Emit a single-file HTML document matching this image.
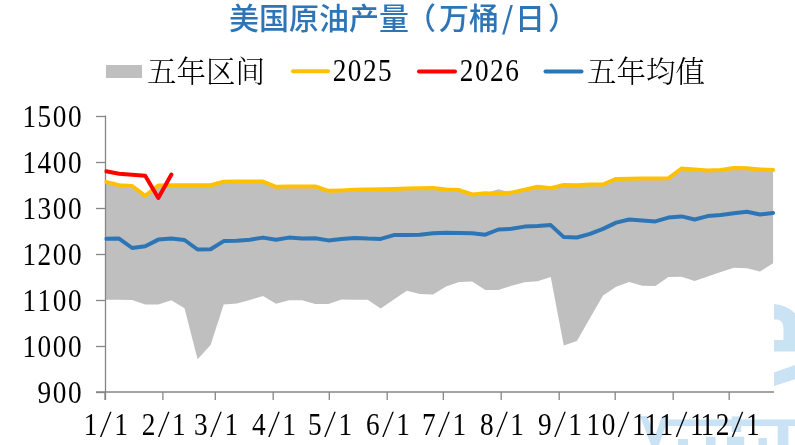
<!DOCTYPE html>
<html><head><meta charset="utf-8"><title>美国原油产量</title>
<style>html,body{margin:0;padding:0;background:#fff;}body{width:795px;height:445px;overflow:hidden;}svg{display:block;}</style>
</head><body>
<svg width="795" height="445" viewBox="0 0 795 445">
<g fill="#c9e2f4">
<path fill-rule="evenodd" d="M774,304 Q787,305 795,313.5 L795,351.4 L774,351.4 Z M774,319.6 L778,319.6 Q783.5,321.5 783.5,328.5 L783.5,339.9 L774,339.9 Z"/>
<polygon points="774,372.5 795,365 795,379.3 774,386"/>
<rect x="668" y="419.5" width="127" height="6.5"/>
<polygon points="640,416 647,416 659,445 651,445"/>
<polygon points="662,416 669,416 659,445 652,445"/>
<rect x="777.7" y="426" width="10.7" height="19"/>
<rect x="731.7" y="416.4" width="9.5" height="15.6"/>
<rect x="706" y="436.7" width="9.5" height="8.3"/><rect x="727" y="436.7" width="17.2" height="8.3"/><rect x="758.5" y="438" width="8.5" height="7"/><rect x="678" y="439" width="10" height="6"/>
</g>
<rect x="105" y="100" width="669" height="292" fill="#fff"/>
<polygon points="106.0,181.9 119.1,185.3 132.2,186.0 145.2,195.8 158.3,185.5 171.4,185.2 184.5,185.2 197.6,185.2 210.6,185.2 223.7,181.7 236.8,181.6 249.9,181.6 263.0,181.6 276.0,186.8 289.1,186.6 302.2,186.5 315.3,186.5 328.4,190.8 341.4,190.4 354.5,189.8 367.6,189.5 380.7,189.2 393.8,188.9 406.8,188.6 419.9,188.3 433.0,188.0 446.1,189.5 459.2,190.1 472.2,194.5 485.3,193.2 498.4,189.2 511.5,192.6 524.6,189.8 537.6,186.8 550.7,188.3 563.8,184.9 576.9,185.2 590.0,184.5 603.0,184.5 616.1,178.9 629.2,178.7 642.3,178.6 655.4,178.5 668.4,178.3 681.5,168.6 694.6,169.5 707.7,170.4 720.8,169.9 733.8,168.0 746.9,168.2 760.0,169.5 773.1,169.9 773.1,263.3 760.0,271.4 746.9,268.3 733.8,267.7 720.8,272.1 707.7,276.6 694.6,281.0 681.5,276.7 668.4,277.0 655.4,286.1 642.3,285.8 629.2,282.1 616.1,286.8 603.0,295.5 590.0,318.0 576.9,341.0 563.8,345.5 550.7,277.0 537.6,281.3 524.6,282.2 511.5,285.8 498.4,289.9 485.3,289.9 472.2,281.6 459.2,282.0 446.1,286.4 433.0,294.6 419.9,293.9 406.8,290.8 393.8,299.6 380.7,308.4 367.6,299.8 354.5,299.8 341.4,299.6 328.4,304.0 315.3,304.0 302.2,300.2 289.1,300.2 276.0,303.7 263.0,296.0 249.9,299.9 236.8,303.5 223.7,304.4 210.6,344.9 197.6,359.2 184.5,308.3 171.4,300.3 158.3,304.5 145.2,304.5 132.2,300.1 119.1,299.8 106.0,299.8" fill="#bfbfbf"/>
<g stroke="#868686" stroke-width="1.3" fill="none">
<line x1="105.5" y1="115.5" x2="105.5" y2="400"/>
<line x1="96" y1="392" x2="774" y2="392"/>
<line x1="96" y1="116.5" x2="105" y2="116.5"/>
<line x1="96" y1="162.5" x2="105" y2="162.5"/>
<line x1="96" y1="208.5" x2="105" y2="208.5"/>
<line x1="96" y1="254.5" x2="105" y2="254.5"/>
<line x1="96" y1="300.5" x2="105" y2="300.5"/>
<line x1="96" y1="346.5" x2="105" y2="346.5"/>
<line x1="96" y1="392.5" x2="105" y2="392.5"/>
<line x1="105.0" y1="392" x2="105.0" y2="400"/>
<line x1="162.9" y1="392" x2="162.9" y2="400"/>
<line x1="215.3" y1="392" x2="215.3" y2="400"/>
<line x1="273.2" y1="392" x2="273.2" y2="400"/>
<line x1="329.3" y1="392" x2="329.3" y2="400"/>
<line x1="387.2" y1="392" x2="387.2" y2="400"/>
<line x1="443.3" y1="392" x2="443.3" y2="400"/>
<line x1="501.2" y1="392" x2="501.2" y2="400"/>
<line x1="559.2" y1="392" x2="559.2" y2="400"/>
<line x1="615.2" y1="392" x2="615.2" y2="400"/>
<line x1="673.2" y1="392" x2="673.2" y2="400"/>
<line x1="729.2" y1="392" x2="729.2" y2="400"/>
</g>
<clipPath id="pc"><rect x="104.5" y="90" width="700" height="310"/></clipPath>
<g clip-path="url(#pc)">
<polyline points="106.0,181.9 119.1,185.3 132.2,186.0 145.2,195.8 158.3,185.5 171.4,185.2 184.5,185.2 197.6,185.2 210.6,185.2 223.7,181.7 236.8,181.6 249.9,181.6 263.0,181.6 276.0,186.8 289.1,186.6 302.2,186.5 315.3,186.5 328.4,190.8 341.4,190.4 354.5,189.8 367.6,189.5 380.7,189.2 393.8,188.9 406.8,188.6 419.9,188.3 433.0,188.0 446.1,189.5 459.2,190.1 472.2,194.5 485.3,193.2 498.4,193.9 511.5,192.6 524.6,189.8 537.6,186.8 550.7,188.3 563.8,184.9 576.9,185.2 590.0,184.5 603.0,184.5 616.1,178.9 629.2,178.7 642.3,178.6 655.4,178.5 668.4,178.3 681.5,168.6 694.6,169.5 707.7,170.4 720.8,169.9 733.8,168.0 746.9,168.2 760.0,169.5 773.1,169.9" fill="none" stroke="#ffc000" stroke-width="4" stroke-linejoin="round" stroke-linecap="round"/>
<polyline points="106.0,238.8 119.1,238.6 132.2,248.0 145.2,246.3 158.3,239.6 171.4,238.4 184.5,240.0 197.6,249.5 210.6,249.2 223.7,241.1 236.8,240.7 249.9,239.7 263.0,237.6 276.0,239.8 289.1,237.6 302.2,238.6 315.3,238.2 328.4,240.4 341.4,238.9 354.5,237.9 367.6,238.6 380.7,238.9 393.8,235.1 406.8,235.1 419.9,234.8 433.0,233.2 446.1,232.8 459.2,233.0 472.2,233.2 485.3,234.7 498.4,229.5 511.5,228.8 524.6,226.6 537.6,226.1 550.7,225.1 563.8,237.1 576.9,237.5 590.0,233.9 603.0,228.9 616.1,222.6 629.2,219.5 642.3,220.5 655.4,221.4 668.4,217.6 681.5,216.4 694.6,219.5 707.7,216.1 720.8,214.9 733.8,213.2 746.9,211.7 760.0,214.5 773.1,212.9" fill="none" stroke="#2e75b6" stroke-width="4" stroke-linejoin="round" stroke-linecap="round"/>
<polyline points="106.0,171.2 119.1,173.8 132.2,174.8 145.2,175.8 158.3,198.0 171.4,174.6" fill="none" stroke="#ff0000" stroke-width="4" stroke-linejoin="round" stroke-linecap="round"/>
</g>
<g transform="scale(0.88,1)" font-family="'Liberation Serif', serif"  font-size="31" fill="#000" text-anchor="middle">
<text x="33.27 50.48 67.70 84.91" y="127.0" >1500</text>
<text x="33.27 50.48 67.70 84.91" y="173.0" >1400</text>
<text x="33.27 50.48 67.70 84.91" y="219.0" >1300</text>
<text x="33.27 50.48 67.70 84.91" y="265.0" >1200</text>
<text x="33.27 50.48 67.70 84.91" y="311.0" >1100</text>
<text x="33.27 50.48 67.70 84.91" y="357.0" >1000</text>
<text x="50.48 67.70 84.91" y="403.0" >900</text>
<text x="385.80 403.01 420.23 437.44" y="81.3" font-size="31">2025</text>
<text x="530.23 547.44 564.66 581.88" y="81.3" font-size="31">2026</text>
</g>
<text font-family="'Liberation Serif', serif" font-size="31" fill="#000" text-anchor="middle"><tspan x="90.65" y="434.9" textLength="13.64" lengthAdjust="spacingAndGlyphs">1</tspan><tspan x="105.80" y="432" font-family="'Noto Serif CJK SC', serif" font-weight="300" font-size="27" textLength="12" lengthAdjust="spacingAndGlyphs">/</tspan><tspan x="120.95" y="434.9" textLength="13.64" lengthAdjust="spacingAndGlyphs">1</tspan></text>
<text font-family="'Liberation Serif', serif" font-size="31" fill="#000" text-anchor="middle"><tspan x="148.59" y="434.9" textLength="13.64" lengthAdjust="spacingAndGlyphs">2</tspan><tspan x="163.74" y="432" font-family="'Noto Serif CJK SC', serif" font-weight="300" font-size="27" textLength="12" lengthAdjust="spacingAndGlyphs">/</tspan><tspan x="178.89" y="434.9" textLength="13.64" lengthAdjust="spacingAndGlyphs">1</tspan></text>
<text font-family="'Liberation Serif', serif" font-size="31" fill="#000" text-anchor="middle"><tspan x="200.92" y="434.9" textLength="13.64" lengthAdjust="spacingAndGlyphs">3</tspan><tspan x="216.07" y="432" font-family="'Noto Serif CJK SC', serif" font-weight="300" font-size="27" textLength="12" lengthAdjust="spacingAndGlyphs">/</tspan><tspan x="231.22" y="434.9" textLength="13.64" lengthAdjust="spacingAndGlyphs">1</tspan></text>
<text font-family="'Liberation Serif', serif" font-size="31" fill="#000" text-anchor="middle"><tspan x="258.86" y="434.9" textLength="13.64" lengthAdjust="spacingAndGlyphs">4</tspan><tspan x="274.01" y="432" font-family="'Noto Serif CJK SC', serif" font-weight="300" font-size="27" textLength="12" lengthAdjust="spacingAndGlyphs">/</tspan><tspan x="289.16" y="434.9" textLength="13.64" lengthAdjust="spacingAndGlyphs">1</tspan></text>
<text font-family="'Liberation Serif', serif" font-size="31" fill="#000" text-anchor="middle"><tspan x="314.93" y="434.9" textLength="13.64" lengthAdjust="spacingAndGlyphs">5</tspan><tspan x="330.08" y="432" font-family="'Noto Serif CJK SC', serif" font-weight="300" font-size="27" textLength="12" lengthAdjust="spacingAndGlyphs">/</tspan><tspan x="345.23" y="434.9" textLength="13.64" lengthAdjust="spacingAndGlyphs">1</tspan></text>
<text font-family="'Liberation Serif', serif" font-size="31" fill="#000" text-anchor="middle"><tspan x="372.87" y="434.9" textLength="13.64" lengthAdjust="spacingAndGlyphs">6</tspan><tspan x="388.02" y="432" font-family="'Noto Serif CJK SC', serif" font-weight="300" font-size="27" textLength="12" lengthAdjust="spacingAndGlyphs">/</tspan><tspan x="403.17" y="434.9" textLength="13.64" lengthAdjust="spacingAndGlyphs">1</tspan></text>
<text font-family="'Liberation Serif', serif" font-size="31" fill="#000" text-anchor="middle"><tspan x="428.94" y="434.9" textLength="13.64" lengthAdjust="spacingAndGlyphs">7</tspan><tspan x="444.09" y="432" font-family="'Noto Serif CJK SC', serif" font-weight="300" font-size="27" textLength="12" lengthAdjust="spacingAndGlyphs">/</tspan><tspan x="459.24" y="434.9" textLength="13.64" lengthAdjust="spacingAndGlyphs">1</tspan></text>
<text font-family="'Liberation Serif', serif" font-size="31" fill="#000" text-anchor="middle"><tspan x="486.88" y="434.9" textLength="13.64" lengthAdjust="spacingAndGlyphs">8</tspan><tspan x="502.03" y="432" font-family="'Noto Serif CJK SC', serif" font-weight="300" font-size="27" textLength="12" lengthAdjust="spacingAndGlyphs">/</tspan><tspan x="517.18" y="434.9" textLength="13.64" lengthAdjust="spacingAndGlyphs">1</tspan></text>
<text font-family="'Liberation Serif', serif" font-size="31" fill="#000" text-anchor="middle"><tspan x="544.82" y="434.9" textLength="13.64" lengthAdjust="spacingAndGlyphs">9</tspan><tspan x="559.97" y="432" font-family="'Noto Serif CJK SC', serif" font-weight="300" font-size="27" textLength="12" lengthAdjust="spacingAndGlyphs">/</tspan><tspan x="575.12" y="434.9" textLength="13.64" lengthAdjust="spacingAndGlyphs">1</tspan></text>
<text font-family="'Liberation Serif', serif" font-size="31" fill="#000" text-anchor="middle"><tspan x="593.31" y="434.9" textLength="13.64" lengthAdjust="spacingAndGlyphs">1</tspan><tspan x="608.46" y="434.9" textLength="13.64" lengthAdjust="spacingAndGlyphs">0</tspan><tspan x="623.61" y="432" font-family="'Noto Serif CJK SC', serif" font-weight="300" font-size="27" textLength="12" lengthAdjust="spacingAndGlyphs">/</tspan><tspan x="638.76" y="434.9" textLength="13.64" lengthAdjust="spacingAndGlyphs">1</tspan></text>
<text font-family="'Liberation Serif', serif" font-size="31" fill="#000" text-anchor="middle"><tspan x="651.25" y="434.9" textLength="13.64" lengthAdjust="spacingAndGlyphs">1</tspan><tspan x="666.40" y="434.9" textLength="13.64" lengthAdjust="spacingAndGlyphs">1</tspan><tspan x="681.55" y="432" font-family="'Noto Serif CJK SC', serif" font-weight="300" font-size="27" textLength="12" lengthAdjust="spacingAndGlyphs">/</tspan><tspan x="696.70" y="434.9" textLength="13.64" lengthAdjust="spacingAndGlyphs">1</tspan></text>
<text font-family="'Liberation Serif', serif" font-size="31" fill="#000" text-anchor="middle"><tspan x="707.32" y="434.9" textLength="13.64" lengthAdjust="spacingAndGlyphs">1</tspan><tspan x="722.47" y="434.9" textLength="13.64" lengthAdjust="spacingAndGlyphs">2</tspan><tspan x="737.62" y="432" font-family="'Noto Serif CJK SC', serif" font-weight="300" font-size="27" textLength="12" lengthAdjust="spacingAndGlyphs">/</tspan><tspan x="752.77" y="434.9" textLength="13.64" lengthAdjust="spacingAndGlyphs">1</tspan></text>
<rect x="106" y="65" width="36" height="13" fill="#bfbfbf"/>
<line x1="293" y1="71.2" x2="328" y2="71.2" stroke="#ffc000" stroke-width="4" stroke-linecap="round"/>
<line x1="419" y1="71.4" x2="455" y2="71.4" stroke="#ff0000" stroke-width="4" stroke-linecap="round"/>
<line x1="545.5" y1="71.5" x2="581.5" y2="71.5" stroke="#2e75b6" stroke-width="4" stroke-linecap="round"/>
<g font-family="'Noto Serif CJK SC', serif" font-weight="300" font-size="29.5" fill="#000">
<text x="147" y="82">五年区间</text>
<text x="587" y="82">五年均值</text>
</g>
<text x="229 259 289 319 349 379 406 439 469 501.8 515 548" y="29" font-family="'Noto Sans CJK SC', sans-serif" font-weight="500" font-size="30" fill="#2e75b6">美国原油产量（万桶/日）</text>
</svg>
</body></html>
